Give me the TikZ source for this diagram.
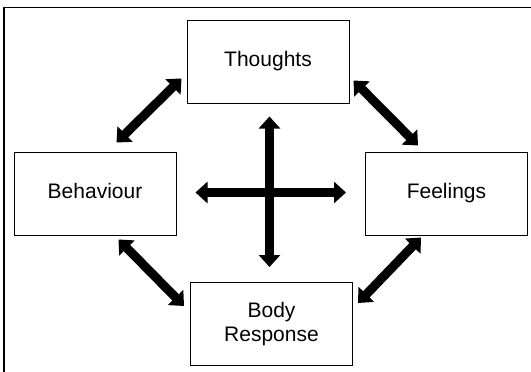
\documentclass[tikz,border=0pt]{standalone}
\usepackage{fontspec}
\setmainfont{Liberation Sans}
\usetikzlibrary{arrows.meta, calc}

\begin{document}
\begin{tikzpicture}[
  x=1pt, y=-1pt,
  box/.style={draw=black, line width=1pt, minimum width=162pt, minimum height=83pt,
    inner sep=0pt, align=center, font=\fontsize{21}{23.5}\selectfont},
  onebox/.style={box, text height=15.3pt, text depth=4.4pt},
  twoway/.style={line width=9pt, {Triangle[width=21pt,length=12pt]}-{Triangle[width=21pt,length=12pt]}}
]
\useasboundingbox (0,0) rectangle (531,372);

% outer frame
\draw[line width=1.5pt] (4,372) |- (531,7.5);

% four boxes
\node[onebox] (thoughts)  at (268,61.5)   {Thoughts};
\node[onebox] (behaviour) at (95,193.5)   {Behaviour};
\node[onebox] (feelings)  at (446.5,193.5){Feelings};
\node[box]    (body)      at (271.5,324)  {Body\\Response};

% diagonal links
\draw[twoway] ([shift={(-5,-25)}]thoughts.south west) -- ([shift={(-60,-9)}]behaviour.north east);
\draw[twoway] ([shift={(4,-23)}]thoughts.south east) -- ([shift={(53,-6)}]feelings.north west);
\draw[twoway] ([shift={(-58,4)}]behaviour.south east) -- ([shift={(-6,24)}]body.north west);
\draw[twoway] ([shift={(56,2)}]feelings.south west) -- ([shift={(5,21)}]body.north east);

% central cross
\coordinate (hub) at (269.5,192.5);
\draw[twoway, shorten <=13pt, shorten >=15pt] (hub |- thoughts.south) -- (hub |- body.north);
\draw[twoway, shorten <=19pt, shorten >=19pt] (behaviour.east |- hub) -- (feelings.west |- hub);

\end{tikzpicture}
\end{document}
